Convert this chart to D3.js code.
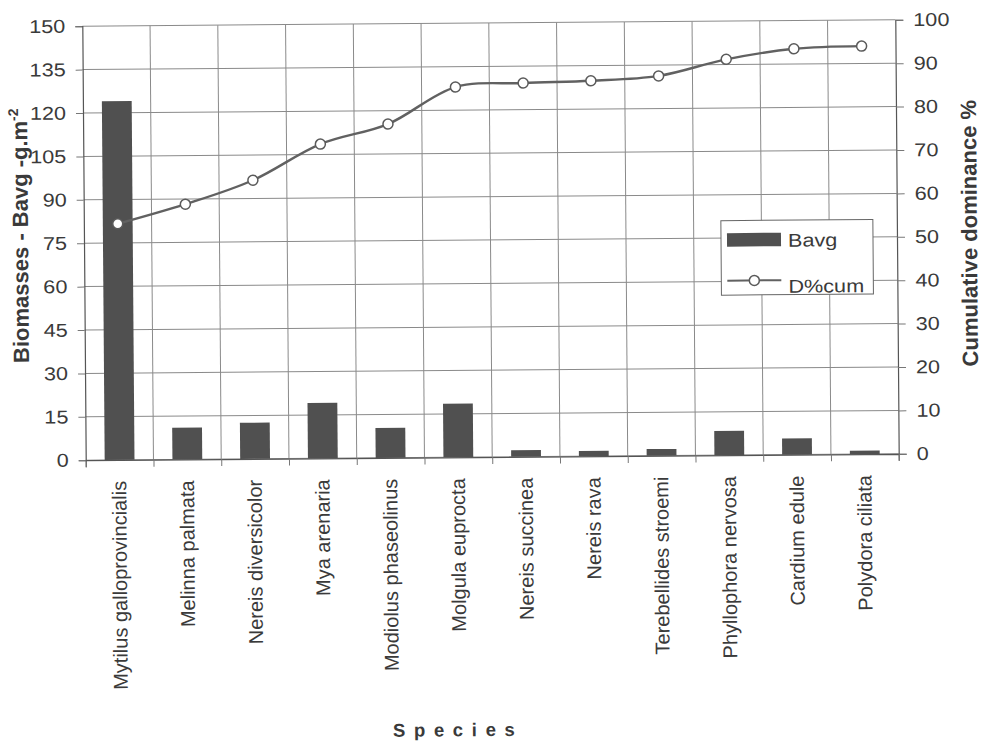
<!DOCTYPE html>
<html>
<head>
<meta charset="utf-8">
<script src="https://cdn.jsdelivr.net/npm/d3@7"></script>
<style>
  html, body { margin: 0; padding: 0; background: #fff; }
  svg { display: block; }
  text { font-family: "Liberation Sans", Arial, sans-serif; fill: #3a3a3a; }
</style>
</head>
<body>
<script>
// Species along the x axis
const species = [
  "Mytilus galloprovincialis", "Melinna palmata", "Nereis diversicolor",
  "Mya arenaria", "Modiolus phaseolinus", "Molgula euprocta",
  "Nereis succinea", "Nereis rava", "Terebellides stroemi",
  "Phyllophora nervosa", "Cardium edule", "Polydora ciliata"
];
// Average biomass, g.m-2 (bars, left axis)
const bavg = [124.0, 11.0, 12.5, 19.2, 10.3, 18.5, 2.3, 1.8, 2.3, 8.4, 5.6, 1.2];
// Cumulative dominance, % (line, right axis)
const dcum = [54.4, 58.8, 64.2, 72.4, 76.9, 85.3, 86.1, 86.5, 87.5, 91.2, 93.5, 94.0];
// Axis tick values
const leftTicks = [0, 15, 30, 45, 60, 75, 90, 105, 120, 135, 150];
const rightTicks = [0, 10, 20, 30, 40, 50, 60, 70, 80, 90, 100];

const W = 984, H = 745;
const P = { left: 84, right: 897, top: 23, bottom: 457 };

const svg = d3.select("body").append("svg").attr("width", W).attr("height", H);
const root = svg.append("g").attr("transform", "rotate(-0.45,490,240)");

const x = d3.scaleBand().domain(species).range([P.left, P.right])
  .paddingInner(0.56).paddingOuter(0.28);
const xEdge = d3.scaleLinear().domain([0, species.length]).range([P.left, P.right]);
const yL = d3.scaleLinear().domain([0, 150]).range([P.bottom, P.top]);
const yR = d3.scaleLinear().domain([0, 100]).range([P.bottom, P.top]);

// widen horizontal labels slightly (wide Excel-style digits)
function stretch(sel, k) {
  sel.each(function () {
    const l = this.getComputedTextLength();
    d3.select(this).attr("textLength", l * k).attr("lengthAdjust", "spacingAndGlyphs");
  });
}

// grid
const grid = root.append("g").attr("stroke", "#8a8a8a").attr("stroke-width", 1);
grid.selectAll("line.h").data(leftTicks).join("line").attr("class", "h")
  .attr("x1", P.left).attr("x2", P.right)
  .attr("y1", d => yL(d)).attr("y2", d => yL(d));
grid.selectAll("line.v").data(d3.range(1, species.length)).join("line").attr("class", "v")
  .attr("x1", d => xEdge(d)).attr("x2", d => xEdge(d))
  .attr("y1", P.top).attr("y2", P.bottom);

// bars
root.append("g").selectAll("rect").data(bavg).join("rect")
  .attr("x", (d, i) => x(species[i]))
  .attr("width", x.bandwidth())
  .attr("y", d => yL(d))
  .attr("height", d => yL(0) - yL(d))
  .attr("fill", "#505050");

// category boundary ticks on the baseline
const xTickAxis = d3.axisBottom(xEdge).tickValues(d3.range(0, species.length + 1))
  .tickSize(7).tickFormat("");
root.append("g").attr("transform", `translate(0,${P.bottom})`).call(xTickAxis)
  .call(g => g.select(".domain").attr("stroke", "#555").attr("stroke-width", 1.2))
  .call(g => g.selectAll(".tick line").attr("stroke", "#777"));

// species labels
const xLabAxis = d3.axisBottom(x).tickSize(0).tickPadding(0);
root.append("g").attr("transform", `translate(0,${P.bottom})`).call(xLabAxis)
  .call(g => g.select(".domain").remove())
  .call(g => g.selectAll(".tick text")
    .attr("transform", "rotate(-90)")
    .attr("x", -21).attr("y", 0).attr("dy", "0.32em")
    .attr("text-anchor", "end")
    .attr("font-size", 20).attr("font-family", null)
    .style("fill", "#3a3a3a"));

// left axis
root.append("g").attr("transform", `translate(${P.left},0)`)
  .call(d3.axisLeft(yL).tickValues(leftTicks).tickSize(7).tickPadding(10))
  .call(g => g.select(".domain").attr("stroke", "#555").attr("stroke-width", 1.2))
  .call(g => g.selectAll(".tick line").attr("stroke", "#777"))
  .call(g => g.selectAll(".tick text").attr("font-size", 18.5).attr("font-family", null)
    .style("fill", "#3a3a3a").call(stretch, 1.17));

// right axis
root.append("g").attr("transform", `translate(${P.right},0)`)
  .call(d3.axisRight(yR).tickValues(rightTicks).tickSize(8).tickPadding(10))
  .call(g => g.select(".domain").attr("stroke", "#555").attr("stroke-width", 1.2))
  .call(g => g.selectAll(".tick line").attr("stroke", "#777"))
  .call(g => g.selectAll(".tick text").attr("font-size", 18.5).attr("font-family", null)
    .style("fill", "#3a3a3a").call(stretch, 1.17));

// cumulative dominance line
const cx = i => x(species[i]) + x.bandwidth() / 2;
const line = d3.line().x((d, i) => cx(i)).y(d => yR(d)).curve(d3.curveCatmullRom.alpha(0.5));
root.append("path").datum(dcum).attr("d", line)
  .attr("fill", "none").attr("stroke", "#616161").attr("stroke-width", 2.4);
root.append("g").selectAll("circle").data(dcum).join("circle")
  .attr("cx", (d, i) => cx(i)).attr("cy", d => yR(d)).attr("r", 5)
  .attr("fill", "#fff").attr("stroke", "#5a5a5a").attr("stroke-width", 1.5);

// axis titles
const lt = root.append("text")
  .attr("transform", "translate(28,232) rotate(-90)")
  .attr("text-anchor", "middle").attr("font-size", 22).attr("font-weight", "bold");
lt.append("tspan").text("Biomasses - Bavg -g.m");
lt.append("tspan").attr("font-size", 14).attr("dy", -9).text("-2");

root.append("text")
  .attr("transform", "translate(977,237) rotate(-90)")
  .attr("text-anchor", "middle").attr("font-size", 22).attr("font-weight", "bold")
  .text("Cumulative dominance %");

root.append("text")
  .attr("x", 450).attr("y", 736)
  .attr("text-anchor", "middle").attr("font-size", 18.5).attr("font-weight", "bold")
  .attr("textLength", 122).attr("lengthAdjust", "spacing")
  .text("Species");

// legend
const lg = root.append("g");
lg.append("rect").attr("x", 721).attr("y", 222.5).attr("width", 152).attr("height", 74.5)
  .attr("fill", "#fff").attr("stroke", "#666").attr("stroke-width", 1);
lg.append("rect").attr("x", 727).attr("y", 235).attr("width", 54).attr("height", 13.5)
  .attr("fill", "#505050");
lg.append("text").attr("x", 788).attr("y", 249).attr("font-size", 18.5).text("Bavg")
  .call(stretch, 1.17);
lg.append("line").attr("x1", 727).attr("x2", 781).attr("y1", 282.5).attr("y2", 282.5)
  .attr("stroke", "#616161").attr("stroke-width", 2);
lg.append("circle").attr("cx", 754).attr("cy", 282.5).attr("r", 5)
  .attr("fill", "#fff").attr("stroke", "#5a5a5a").attr("stroke-width", 1.5);
lg.append("text").attr("x", 788).attr("y", 295).attr("font-size", 18.5).text("D%cum")
  .call(stretch, 1.17);
</script>
</body>
</html>
